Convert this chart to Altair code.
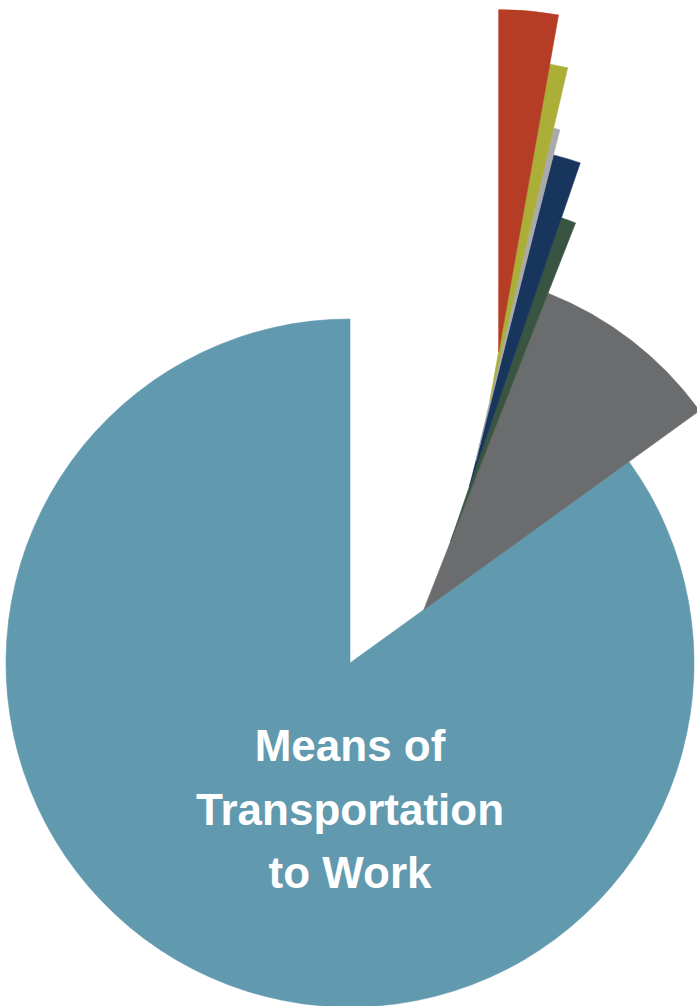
import math
import altair as alt
import pandas as pd

# ---- data (clockwise from 12 o'clock) ----
categories = ["Slice A", "Slice B", "Slice C", "Slice D", "Slice E", "Slice F",
              "Means of Transportation to Work"]
shares = [2.8, 0.85, 0.3, 1.3, 0.7, 9.1, 84.95]          # percent of the pie
colors = ["#B53D25", "#ABAF37", "#A9AAAC", "#18355D", "#3A5442", "#6B6C6E", "#6199AF"]
center_label = ["Means of", "Transportation", "to Work"]

# ---- layout / style ----
cx, cy = 350, 663
# each slice slides outward (px) along the edge it shares with its clockwise neighbour
slide = [50, 62, 26, 58, 73.5, 91, 0]
radii = [342, 342, 342, 342, 342, 340, 344]
draw_order = [6, 5, 4, 3, 2, 1, 0]   # big slice at the bottom, red on top

start, end, acc = [], [], 0.0
for s in shares:
    start.append(acc)
    acc += s
    end.append(acc)

# apex positions: chain from the big slice outward
n = len(shares)
apex = [None] * n
apex[n - 1] = (cx, cy)
for i in range(n - 2, -1, -1):
    ang = end[i] / 100 * 2 * math.pi
    px, py = apex[i + 1]
    apex[i] = (px + slide[i] * math.sin(ang), py - slide[i] * math.cos(ang))

rows = []
for z, i in enumerate(draw_order):
    rows.append({
        "category": categories[i],
        "share": shares[i],
        "start": start[i],
        "end": end[i],
        "color": colors[i],
        "px": apex[i][0],
        "py": apex[i][1],
        "r": radii[i],
        "z": z,
    })
df = pd.DataFrame(rows)

W, H = 697, 1006

pie = alt.Chart(df).mark_arc(strokeWidth=0.6).encode(
    theta=alt.Theta("start:Q", scale=alt.Scale(domain=[0, 100], range=[0, 2 * math.pi]), stack=None),
    theta2="end:Q",
    radius=alt.Radius("r:Q", scale=None),
    x=alt.X("px:Q", scale=None),
    y=alt.Y("py:Q", scale=None),
    color=alt.Color("color:N", scale=None),
    stroke=alt.Stroke("color:N", scale=None),
    order=alt.Order("z:Q"),
)

label = alt.Chart(pd.DataFrame({"t": [center_label]})).mark_text(
    color="white",
    font="Liberation Sans, Arial, sans-serif",
    fontWeight="bold",
    fontSize=44,
    lineHeight=63.5,
    align="center",
    baseline="alphabetic",
).encode(
    text="t",
    x=alt.value(cx),
    y=alt.value(761),
)

chart = alt.layer(pie, label).properties(
    width=W, height=H, padding=0, autosize="none", background="white"
).configure_view(stroke=None)

chart.save("out.html", embed_options={"renderer": "svg", "actions": False})
